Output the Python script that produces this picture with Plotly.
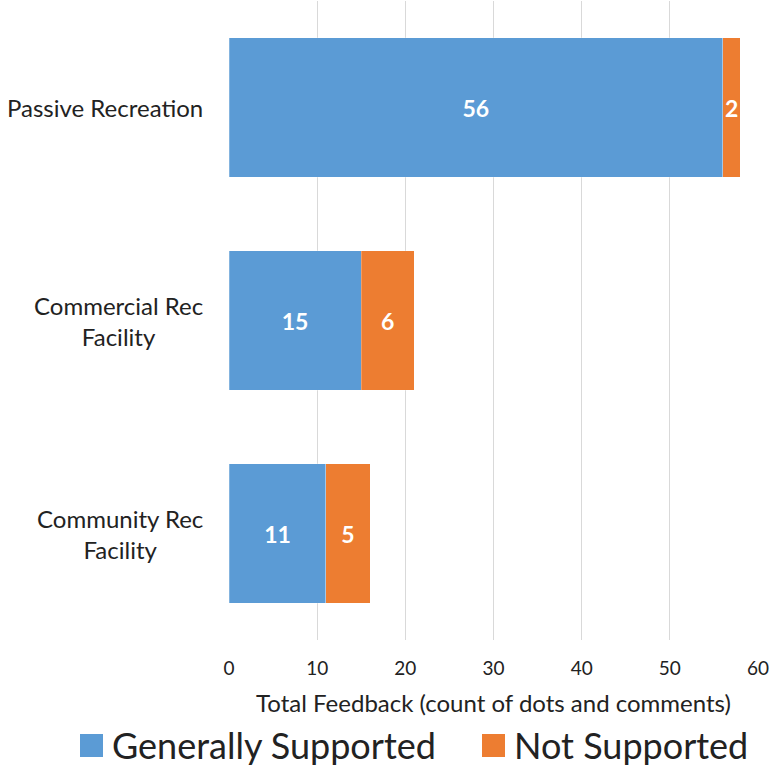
import plotly.graph_objects as go

categories = ["Passive Recreation", "Commercial Rec Facility", "Community Rec Facility"]
tick_text = ["Passive Recreation", "Commercial Rec<br>Facility", "Community Rec<br>Facility"]
supported = [56, 15, 11]
not_supported = [2, 6, 5]
x_ticks = [0, 10, 20, 30, 40, 50, 60]
series_names = ["Generally Supported", "Not Supported"]

BLUE = "#5B9BD5"
ORANGE = "#ED7D31"
FONT = "Lato"
TEXT = "#222222"

W, H = 772, 768
L, R, T, B = 229, 14, 1, 128
PW, PH = W - L - R, H - T - B


def px_x(px):
    return (px - L) / PW


def px_y(py):
    return (H - B - py) / PH


fig = go.Figure()
for name, vals, color in [(series_names[0], supported, BLUE),
                          (series_names[1], not_supported, ORANGE)]:
    fig.add_trace(go.Bar(
        name=name, y=categories, x=vals, orientation="h",
        marker=dict(color=color, line=dict(color="rgba(255,255,255,0.5)", width=0.5)),
        text=vals, textposition="inside", insidetextanchor="middle",
        textfont=dict(color="white", size=23, family=FONT, weight="bold"),
        showlegend=False,
    ))

# Category labels: right-aligned block, lines centred
for cat, txt in zip(categories, tick_text):
    fig.add_annotation(
        x=0, xref="paper", y=cat, yref="y", text=txt, showarrow=False,
        xanchor="right", xshift=-24, align="center",
        font=dict(size=24, color=TEXT, family=FONT),
    )

# Legend drawn below the axis title with large square swatches
legend_items = [(series_names[0], BLUE, 80), (series_names[1], ORANGE, 482)]
for name, color, x0 in legend_items:
    fig.add_shape(type="rect", xref="paper", yref="paper",
                  x0=px_x(x0), x1=px_x(x0 + 23), y0=px_y(757), y1=px_y(734),
                  fillcolor=color, line=dict(width=0))
    fig.add_annotation(x=px_x(x0 + 30), y=px_y(745), xref="paper", yref="paper",
                       text=name, showarrow=False, xanchor="left", yanchor="middle",
                       font=dict(size=36, color=TEXT, family=FONT))

fig.update_layout(
    width=W, height=H,
    barmode="stack", bargap=0.343,
    plot_bgcolor="white", paper_bgcolor="white",
    margin=dict(l=L, r=R, t=T, b=B),
    font=dict(family=FONT, color=TEXT),
    uniformtext=dict(minsize=23, mode="show"),
    showlegend=False,
    xaxis=dict(
        range=[0, 60], tickvals=x_ticks, showgrid=True, gridcolor="#D9D9D9",
        gridwidth=1.3, zeroline=False, showline=False, ticks="",
        tickfont=dict(size=19, color=TEXT), ticklabelstandoff=15,
        title=dict(text="Total Feedback (count of dots and comments)",
                   font=dict(size=24, color=TEXT), standoff=17),
    ),
    yaxis=dict(
        categoryorder="array", categoryarray=categories, autorange="reversed",
        showticklabels=False, showgrid=False, zeroline=False, showline=False, ticks="",
    ),
)

fig.write_html("out.html")
